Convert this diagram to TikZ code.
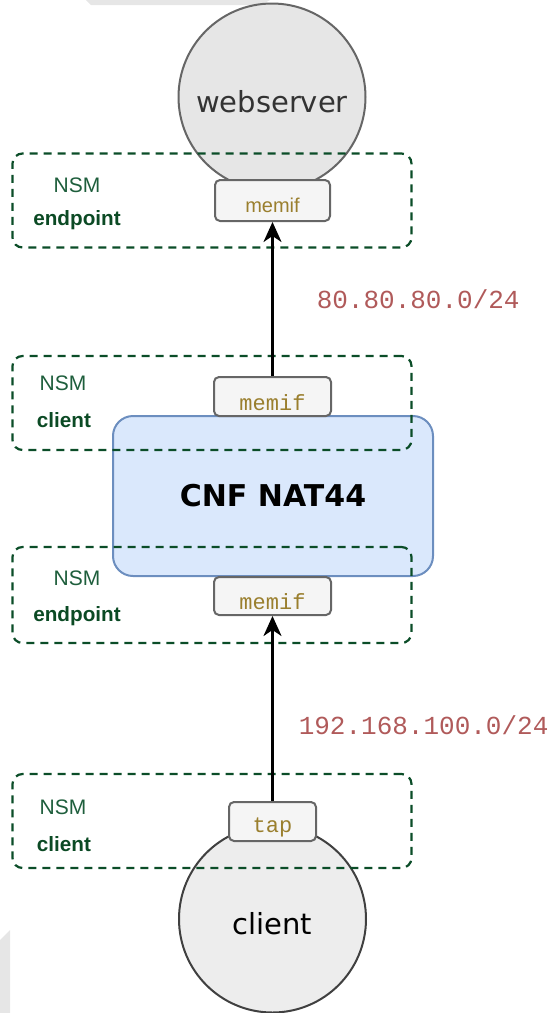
\documentclass[tikz,border=0pt]{standalone}
\usepackage{fontspec}
\usetikzlibrary{arrows.meta}
\newfontfamily\sanslabel{Liberation Sans}
\newfontfamily\podfont{DejaVu Sans}
\newfontfamily\ttlabel{Liberation Mono}
\newcommand{\fsz}[1]{\fontsize{#1}{#1}\selectfont}
\definecolor{nsmline}{HTML}{0B4D28}
\definecolor{nsmtext}{HTML}{1E5E3C}
\definecolor{rolegreen}{HTML}{0B4A24}
\definecolor{ifaceline}{HTML}{666666}
\definecolor{ifacefill}{HTML}{F5F5F5}
\definecolor{ifacetext}{HTML}{9A7F2E}
\definecolor{natfill}{HTML}{DAE8FC}
\definecolor{natline}{HTML}{6C8EBF}
\definecolor{subnetred}{HTML}{B05A5A}
\definecolor{pagegray}{HTML}{E6E6E6}
\tikzset{
  pod/.style={circle, line width=2pt, minimum size=187pt, inner sep=0pt,
    font=\podfont\fsz{29}, text height=30pt, text depth=0pt},
  iface/.style={draw=ifaceline, fill=ifacefill, line width=2pt, rounded corners=5pt,
    text=ifacetext, inner sep=0pt, text height=27pt, text depth=0pt},
  nsmbox/.style={draw=nsmline, line width=2.2pt, dash pattern=on 8pt off 6pt,
    rounded corners=10pt, minimum width=399pt, minimum height=94pt},
  nsmtag/.style={text=nsmtext, font=\sanslabel\fsz{21}, inner sep=0pt},
  nsmrole/.style={text=rolegreen, font=\sanslabel\bfseries\fsz{20.7}, inner sep=0pt},
  subnet/.style={text=subnetred, font=\ttlabel\fsz{26}, anchor=west, inner sep=0pt},
  link/.style={line width=2.5pt, -{Stealth[length=20pt,width=18pt,inset=6pt]}}
}
\begin{document}
\begin{tikzpicture}[x=1pt,y=-1pt]
\useasboundingbox (0,0) rectangle (551,1013);
% page leftovers
\fill[pagegray] (86,0) -- (270,0) -- (261,5) -- (91,5) -- cycle;
\fill[pagegray] (0,940) -- (10,930) -- (10,1013) -- (0,1013) -- cycle;
% pods
\node[pod, draw=ifaceline, fill=pagegray, text=black!80] (webserver) at (272,97) {webserver};
\node[pod, draw=black!75, fill=black!7] (client) at (272.5,919) {client};
\node[draw=natline, fill=natfill, line width=2pt, rounded corners=20pt,
  minimum width=320pt, minimum height=160pt, font=\podfont\bfseries\fsz{30}] (nat) at (273,496) {CNF NAT44};
% interfaces
\node[iface, minimum width=115pt, minimum height=41pt, font=\sanslabel\fsz{20}, text height=23pt] (memifA) at (272.5,200.5) {memif};
\node[iface, minimum width=117pt, minimum height=39pt, font=\ttlabel\fsz{22}] (memifB) at (272.5,396.5) {memif};
\node[iface, minimum width=117pt, minimum height=38pt, font=\ttlabel\fsz{22}] (memifC) at (272.5,596) {memif};
\node[iface, minimum width=87pt, minimum height=39pt, font=\ttlabel\fsz{22}, text height=22pt] (tap) at (272.5,821.5) {tap};
% NSM groups
\node[nsmbox] (epA) at (212,200.5) {};
\node[nsmbox] (clA) at (212,403) {};
\node[nsmbox, minimum height=96pt] (epB) at (212,595) {};
\node[nsmbox] (clB) at (212,821) {};
\node[nsmtag] at (77,185) {NSM};
\node[nsmrole] at (77,220) {endpoint};
\node[nsmtag] at (63,383) {NSM};
\node[nsmrole] at (64,420) {client};
\node[nsmtag] at (77,578) {NSM};
\node[nsmrole] at (77,616) {endpoint};
\node[nsmtag] at (63,807) {NSM};
\node[nsmrole] at (64,844) {client};
% links
\draw[link] (memifB) to node[subnet, pos=0.5, xshift=43pt]{80.80.80.0/24} (memifA);
\draw[link] (tap) to node[subnet, pos=0.41, xshift=25pt]{192.168.100.0/24} (memifC);
\end{tikzpicture}
\end{document}
